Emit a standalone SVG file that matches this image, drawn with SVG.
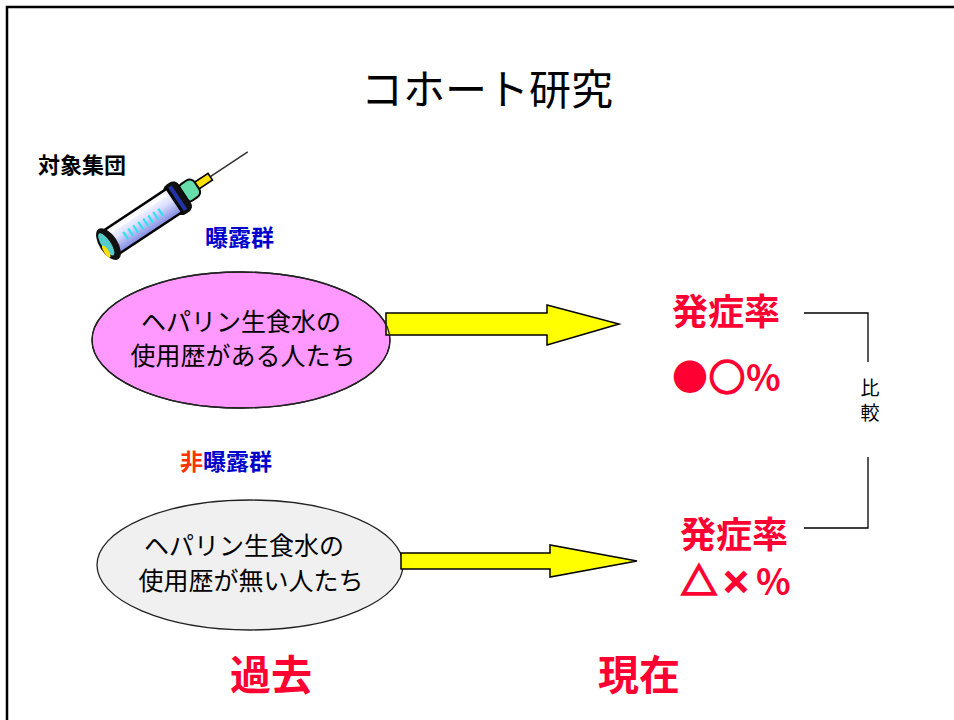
<svg xmlns="http://www.w3.org/2000/svg" width="954" height="720" viewBox="0 0 954 720">
  <style>
    .jp { font-family: "Noto Sans CJK JP", "Noto Sans", sans-serif; }
    .title { font-size: 42px; fill: #000; }
    .bold { font-weight: bold; }
    .red { fill: #FF0033; }
    .blue { fill: #0000CC; }
    .thick { stroke: #FF0033; stroke-width: 2.2; }
    .body { font-size: 25px; fill: #000; text-anchor: middle; }
    .arrow { fill: #FFFF00; stroke: #000; stroke-width: 1.5; stroke-linejoin: miter; }
    .link { fill: none; stroke: #000; stroke-width: 1.3; }
  </style>
  <defs>
    <linearGradient id="barrelGrad" x1="0" y1="0" x2="0" y2="1">
      <stop offset="0" stop-color="#ffffff"/>
      <stop offset="0.45" stop-color="#dde0ff"/>
      <stop offset="1" stop-color="#7f88e0"/>
    </linearGradient>
  </defs>

  <rect width="954" height="720" fill="#fff"/>
  <!-- slide frame -->
  <path d="M7,720 V7 H954" fill="none" stroke="#000" stroke-width="2.5"/>

  <text class="jp title" x="487" y="105" text-anchor="middle">コホート研究</text>

  <g id="target-group">
    <text class="jp bold" x="38" y="173" font-size="22">対象集団</text>
  </g>

  <!-- syringe clip art -->
  <g id="syringe" transform="translate(101,249) rotate(-33.5)">
    <line x1="128" y1="0" x2="176" y2="0" stroke="#333" stroke-width="1.6"/>
    <rect x="112" y="-4" width="19" height="8" fill="#FFE000" stroke="#000" stroke-width="1.6"/>
    <rect x="97" y="-10" width="18" height="20" rx="6" fill="#66DDAA" stroke="#000" stroke-width="2"/>
    <rect x="84" y="-17" width="16" height="34" rx="6" fill="#111" stroke="#000"/>
    <rect x="90" y="-14" width="4" height="28" fill="#2233AA"/>
    <rect x="10" y="-14" width="78" height="28" fill="url(#barrelGrad)" stroke="#000" stroke-width="2.4"/>
    <g stroke="#33E0F0" stroke-width="2.2">
      <line x1="28" y1="-2" x2="28" y2="7"/>
      <line x1="34" y1="-2" x2="34" y2="7"/>
      <line x1="40" y1="-2" x2="40" y2="7"/>
      <line x1="46" y1="-2" x2="46" y2="7"/>
      <line x1="52" y1="-2" x2="52" y2="7"/>
      <line x1="58" y1="-2" x2="58" y2="7"/>
      <line x1="64" y1="-2" x2="64" y2="7"/>
      <line x1="70" y1="-2" x2="70" y2="7"/>
    </g>
    <line x1="14" y1="-9" x2="84" y2="-9" stroke="#fff" stroke-width="2.5"/>
    <ellipse cx="9" cy="0" rx="9" ry="18" fill="#111"/>
    <ellipse cx="7" cy="-1" rx="4.5" ry="13" fill="#55CCCC"/>
    <ellipse cx="3" cy="5" rx="2.2" ry="7" fill="#FFE000"/>
  </g>

  <g id="exposed-label">
    <text class="jp bold blue" x="205" y="246" font-size="23">曝露群</text>
  </g>

  <g id="exposed">
    <ellipse cx="241" cy="340" rx="149" ry="68" fill="#FF99FF" stroke="#222" stroke-width="1.3"/>
    <text class="jp body" x="241" y="331">ヘパリン生食水の</text>
    <text class="jp body" x="243" y="365">使用歴がある人たち</text>
  </g>

  <g id="unexposed-label">
    <text class="jp bold" x="180" y="470" font-size="23"><tspan fill="#FF3300">非</tspan><tspan class="blue">曝露群</tspan></text>
  </g>

  <g id="unexposed">
    <ellipse cx="250" cy="565" rx="153" ry="65" fill="#F0F0F0" stroke="#222" stroke-width="1.3"/>
    <text class="jp body" x="244" y="555">ヘパリン生食水の</text>
    <text class="jp body" x="251" y="590">使用歴が無い人たち</text>
  </g>

  <g id="rate-exposed">
    <text class="jp bold red" x="672" y="325" font-size="36">発症率</text>
    <text class="jp bold red" y="391" font-size="36"><tspan x="672">●</tspan><tspan class="thick" x="709">○</tspan><tspan x="746">%</tspan></text>
  </g>

  <g id="rate-unexposed">
    <text class="jp bold red" x="680" y="548" font-size="36">発症率</text>
    <text class="jp bold red" y="595" font-size="36"><tspan class="thick" x="681">△</tspan><tspan class="thick" x="721" font-size="30" dy="-2">×</tspan><tspan x="756" dy="2">%</tspan></text>
  </g>

  <g id="compare">
    <text class="jp" x="870" y="395" font-size="19" text-anchor="middle">比</text>
    <text class="jp" x="870" y="420" font-size="19" text-anchor="middle">較</text>
  </g>

  <g id="past">
    <text class="jp bold red" x="230" y="690" font-size="41">過去</text>
  </g>
  <g id="present">
    <text class="jp bold red" x="598" y="690" font-size="41">現在</text>
  </g>

  <g id="connectors">
    <path class="arrow" d="M386,313 H547 V305 L619,324 L547,345 V335 H386 Z"/>
    <path class="arrow" d="M401,553 H550 V545 L637,561 L550,577 V569 H401 Z"/>
    <path class="link" d="M804,313 H868 V362"/>
    <path class="link" d="M868,457 V528 H804"/>
  </g>
  <!-- redraw ellipse edges over the arrow tails -->
  <ellipse cx="241" cy="340" rx="149" ry="68" fill="none" stroke="#222" stroke-width="1.3"/>
</svg>
